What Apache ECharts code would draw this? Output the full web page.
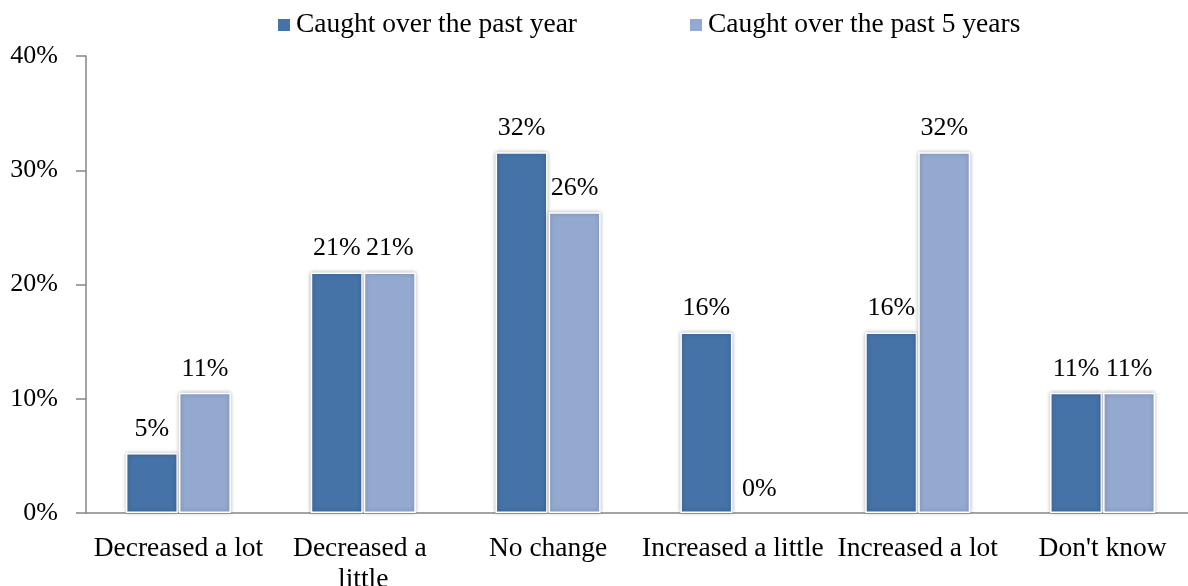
<!DOCTYPE html>
<html>
<head>
<meta charset="utf-8">
<script src="https://cdn.jsdelivr.net/npm/echarts@6/dist/echarts.min.js"></script>
<style>
html,body{margin:0;padding:0;background:#fff;}
#chart{width:1188px;height:586px;}
</style>
</head>
<body>
<div id="chart"></div>
<script>
const categories = ['Decreased a lot', 'Decreased a little', 'No change', 'Increased a little', 'Increased a lot', "Don't know"];
const seriesNames = ['Caught over the past year', 'Caught over the past 5 years'];
const pastYear = [5.26, 21.05, 31.58, 15.79, 15.79, 10.53];
const past5Years = [10.53, 21.05, 26.32, 0, 31.58, 10.53];
const yTicks = [0, 10, 20, 30, 40];

const FONT = 'Liberation Serif';
const colors = ['#4572A7', '#94A9D0'];

const chart = echarts.init(document.getElementById('chart'));

function barSeries(name, data, color) {
  return {
    name: name,
    type: 'bar',
    data: data.map(function (v) {
      return v === 0 ? { value: v, itemStyle: { borderWidth: 0, shadowBlur: 0, shadowColor: 'transparent' } } : v;
    }),
    barWidth: 52,
    barGap: '2%',
    itemStyle: {
      color: color,
      borderColor: '#ffffff',
      borderWidth: 1.5,
      shadowBlur: 4,
      shadowColor: 'rgba(0,0,0,0.28)'
    },
    label: {
      show: true,
      position: 'top',
      distance: 11,
      formatter: function (p) { return Math.round(p.value) + '%'; },
      fontFamily: FONT,
      fontSize: 26,
      color: '#000'
    }
  };
}

chart.setOption({
  animation: false,
  color: colors,
  textStyle: { fontFamily: FONT },
  legend: [
    {
      data: [seriesNames[0]],
      left: 271, top: 6,
      itemWidth: 14, itemHeight: 14,
      icon: 'rect',
      textStyle: { fontFamily: FONT, fontSize: 27.5, color: '#000' }
    },
    {
      data: [seriesNames[1]],
      left: 683, top: 6,
      itemWidth: 14, itemHeight: 14,
      icon: 'rect',
      textStyle: { fontFamily: FONT, fontSize: 27.5, color: '#000' }
    }
  ],
  grid: { left: 86, top: 56, right: -7, bottom: 73, containLabel: false, outerBoundsMode: 'none' },
  xAxis: {
    type: 'category',
    data: categories,
    axisLine: { lineStyle: { color: '#868686', width: 1.5 } },
    axisTick: { length: 8, lineStyle: { color: '#868686', width: 1.5 } },
    axisLabel: {
      fontFamily: FONT, fontSize: 27.5, color: '#000',
      margin: 20, interval: 0,
      width: 182, overflow: 'break', lineHeight: 31
    }
  },
  yAxis: {
    type: 'value',
    min: yTicks[0], max: yTicks[yTicks.length - 1], interval: 10,
    axisLine: { show: true, lineStyle: { color: '#868686', width: 1.5 } },
    axisTick: { show: true, length: 10, lineStyle: { color: '#868686', width: 1.5 } },
    splitLine: { show: false },
    axisLabel: {
      formatter: '{value}%',
      fontFamily: FONT, fontSize: 26, color: '#000',
      margin: 28
    }
  },
  series: [
    barSeries(seriesNames[0], pastYear, colors[0]),
    barSeries(seriesNames[1], past5Years, colors[1])
  ]
});
</script>
</body>
</html>
